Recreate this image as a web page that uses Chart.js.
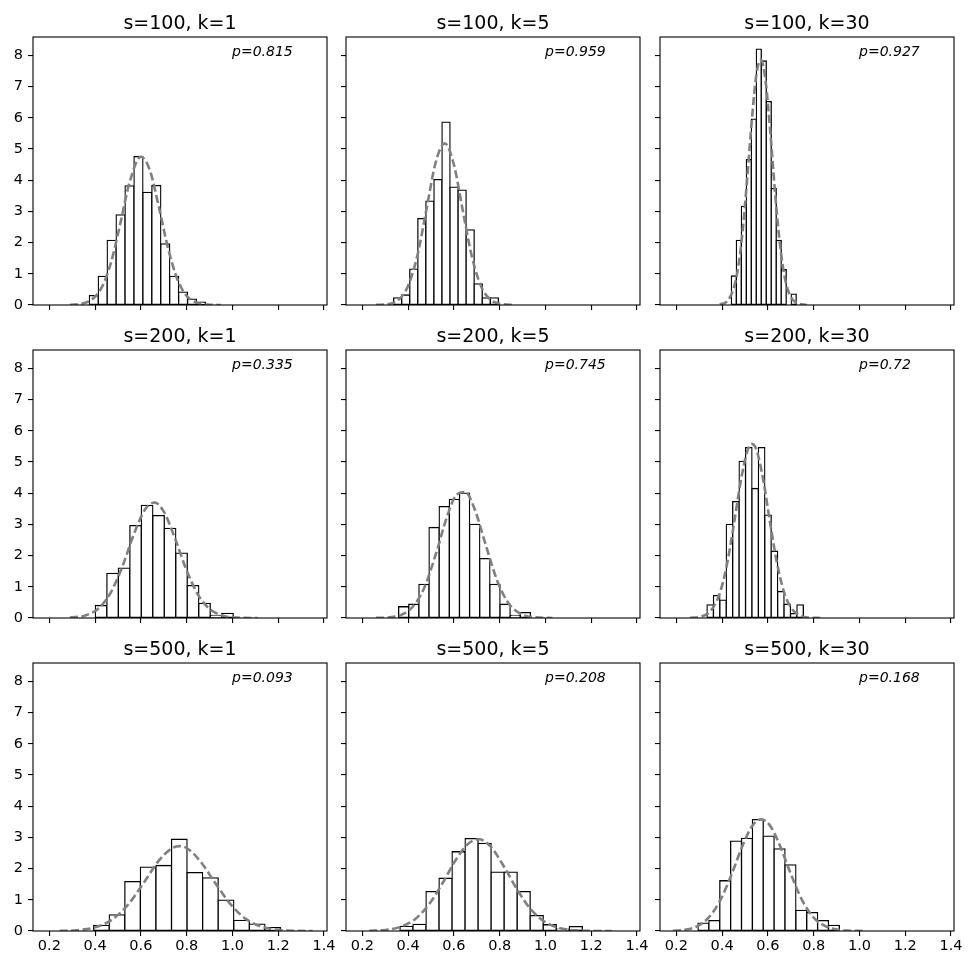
<!DOCTYPE html>
<html>
<head>
<meta charset="utf-8">
<script src="https://cdn.jsdelivr.net/npm/chart.js@4.4.0/dist/chart.umd.min.js"></script>
<style>
  html, body { margin: 0; padding: 0; background: #fff; }
  #fig { position: relative; width: 969px; height: 969px; overflow: hidden; }
  #fig canvas { position: absolute; }
</style>
</head>
<body>
<div id="fig"></div>
<script>
// shared axes
const xTicks = [0.2, 0.4, 0.6, 0.8, 1.0, 1.2, 1.4];
const yTicks = [0, 1, 2, 3, 4, 5, 6, 7, 8];
const xMin = 0.1286, xMax = 1.413;
const yMax = 8.59;

const titles = ["s=100, k=1", "s=100, k=5", "s=100, k=30",
                "s=200, k=1", "s=200, k=5", "s=200, k=30",
                "s=500, k=1", "s=500, k=5", "s=500, k=30"];
const pValues = ["0.815", "0.959", "0.927", "0.335", "0.745", "0.72", "0.093", "0.208", "0.168"];

// histogram bins: first edge and bin width, then density per bin
const binStart = [0.3748, 0.3367, 0.4403, 0.401, 0.3585, 0.334, 0.3937, 0.3644, 0.2947];
const binWidth = [0.039, 0.0352, 0.0218, 0.0502, 0.0443, 0.02805, 0.068, 0.0569, 0.0475];

const hist_s100_k1 = [0.30, 0.92, 2.07, 2.89, 3.82, 4.76, 3.61, 3.83, 1.96, 0.92, 0.41, 0.19, 0.09];
const hist_s100_k5 = [0.23, 0.32, 1.15, 2.77, 3.33, 4.02, 5.86, 3.78, 3.68, 2.41, 0.68, 0.23, 0.23];
const hist_s100_k30 = [0.93, 2.07, 3.16, 4.66, 5.96, 8.20, 7.82, 6.52, 3.73, 2.07, 1.13, 0, 0.35];
const hist_s200_k1 = [0.40, 1.43, 1.60, 2.96, 3.61, 3.28, 2.87, 2.08, 1.04, 0.47, 0.08, 0.15];
const hist_s200_k5 = [0.36, 0.44, 1.08, 2.90, 3.57, 3.80, 4.00, 3.00, 1.90, 1.08, 0.44, 0.08, 0.17];
const hist_s200_k30 = [0.42, 0.72, 0.57, 3.00, 3.73, 5.02, 5.46, 4.15, 5.46, 3.30, 2.14, 0.85, 0.44, 0.14, 0.42];
const hist_s500_k1 = [0.18, 0.52, 1.58, 2.05, 2.10, 2.94, 1.87, 1.70, 0.99, 0.34, 0.22, 0.11];
const hist_s500_k5 = [0.15, 0.21, 1.26, 1.69, 2.54, 2.96, 2.81, 1.89, 1.89, 1.26, 0.49, 0.20, 0.06, 0.14];
const hist_s500_k30 = [0.25, 0.33, 1.61, 2.88, 2.97, 3.57, 3.04, 2.63, 2.12, 0.66, 0.59, 0.33, 0.18];

// fitted density curves (dashed)
const curveX_s100_k1 = [0.29, 0.35, 0.39, 0.43, 0.47, 0.51, 0.55, 0.60, 0.64, 0.68, 0.72, 0.76, 0.80, 0.85, 0.90, 0.95];
const curveY_s100_k1 = [0.005, 0.053, 0.20, 0.58, 1.38, 2.61, 3.92, 4.75, 4.30, 3.09, 1.78, 0.81, 0.29, 0.06, 0.009, 0.001];
const curveX_s100_k5 = [0.26, 0.32, 0.36, 0.40, 0.44, 0.48, 0.52, 0.56, 0.60, 0.64, 0.68, 0.72, 0.76, 0.81, 0.865];
const curveY_s100_k5 = [0.003, 0.04, 0.18, 0.62, 1.57, 3.06, 4.56, 5.18, 4.50, 2.98, 1.51, 0.58, 0.17, 0.03, 0.002];
const curveX_s100_k30 = [0.39, 0.42, 0.45, 0.47, 0.49, 0.51, 0.53, 0.55, 0.57, 0.59, 0.61, 0.63, 0.65, 0.67, 0.69, 0.72, 0.77];
const curveY_s100_k30 = [0.016, 0.11, 0.52, 1.20, 2.40, 4.09, 5.94, 7.40, 7.87, 7.17, 5.59, 3.72, 2.12, 1.03, 0.43, 0.09, 0.003];
const curveX_s200_k1 = [0.29, 0.36, 0.42, 0.47, 0.52, 0.57, 0.62, 0.66, 0.70, 0.75, 0.80, 0.85, 0.90, 0.96, 1.03, 1.11];
const curveY_s200_k1 = [0.012, 0.087, 0.34, 0.84, 1.67, 2.70, 3.50, 3.70, 3.41, 2.53, 1.52, 0.74, 0.29, 0.07, 0.009, 0.001];
const curveX_s200_k5 = [0.26, 0.32, 0.37, 0.42, 0.47, 0.52, 0.57, 0.61, 0.65, 0.69, 0.74, 0.79, 0.84, 0.89, 0.95, 1.03];
const curveY_s200_k5 = [0.003, 0.022, 0.10, 0.36, 0.96, 2.02, 3.25, 3.94, 4.04, 3.50, 2.32, 1.18, 0.46, 0.14, 0.024, 0.001];
const curveX_s200_k30 = [0.26, 0.31, 0.35, 0.39, 0.42, 0.45, 0.48, 0.51, 0.53, 0.55, 0.58, 0.61, 0.64, 0.67, 0.70, 0.74, 0.78, 0.83];
const curveY_s200_k30 = [0.004, 0.047, 0.23, 0.80, 1.68, 2.94, 4.33, 5.35, 5.58, 5.39, 4.41, 3.03, 1.75, 0.84, 0.34, 0.078, 0.013, 0.001];
const curveX_s500_k1 = [0.245, 0.32, 0.40, 0.47, 0.54, 0.61, 0.68, 0.74, 0.77, 0.80, 0.86, 0.92, 0.99, 1.06, 1.13, 1.21, 1.28, 1.35];
const curveY_s500_k1 = [0.005, 0.026, 0.117, 0.35, 0.81, 1.52, 2.27, 2.67, 2.72, 2.66, 2.23, 1.59, 0.87, 0.38, 0.13, 0.029, 0.006, 0.001];
const curveX_s500_k5 = [0.23, 0.30, 0.37, 0.43, 0.49, 0.55, 0.61, 0.66, 0.71, 0.76, 0.82, 0.88, 0.94, 1.00, 1.07, 1.15, 1.22, 1.29];
const curveY_s500_k5 = [0.006, 0.034, 0.14, 0.38, 0.84, 1.53, 2.30, 2.78, 2.94, 2.71, 2.05, 1.28, 0.66, 0.28, 0.079, 0.014, 0.002, 0.0003];
const curveX_s500_k30 = [0.185, 0.24, 0.29, 0.34, 0.39, 0.44, 0.49, 0.53, 0.57, 0.61, 0.65, 0.70, 0.75, 0.80, 0.85, 0.91, 0.96, 1.015];
const curveY_s500_k30 = [0.009, 0.043, 0.15, 0.42, 0.96, 1.79, 2.75, 3.35, 3.58, 3.37, 2.78, 1.83, 0.98, 0.43, 0.16, 0.035, 0.008, 0.001];

const histograms = [hist_s100_k1, hist_s100_k5, hist_s100_k30, hist_s200_k1, hist_s200_k5, hist_s200_k30, hist_s500_k1, hist_s500_k5, hist_s500_k30];
const curvesX = [curveX_s100_k1, curveX_s100_k5, curveX_s100_k30, curveX_s200_k1, curveX_s200_k5, curveX_s200_k30, curveX_s500_k1, curveX_s500_k5, curveX_s500_k30];
const curvesY = [curveY_s100_k1, curveY_s100_k5, curveY_s100_k30, curveY_s200_k1, curveY_s200_k5, curveY_s200_k30, curveY_s500_k1, curveY_s500_k5, curveY_s500_k30];

// layout of the 3x3 grid (plot area corners)
const plotLefts = [33, 346, 660];
const plotTops = [37, 350, 663];
const plotW = 294, plotH = 268;
const padL = 33, padT = 37, padR = 14, padB = 38;

const FONT = "'DejaVu Sans', 'Liberation Sans', sans-serif";

const panelDecor = {
  id: 'panelDecor',
  afterDraw(chart, args, opts) {
    const ctx = chart.ctx;
    const a = chart.chartArea;
    ctx.save();
    ctx.strokeStyle = '#000';
    ctx.lineWidth = 1.1;
    ctx.strokeRect(a.left, a.top, a.right - a.left, a.bottom - a.top);
    ctx.fillStyle = '#000';
    ctx.textAlign = 'center';
    ctx.textBaseline = 'alphabetic';
    ctx.font = "19px " + FONT;
    ctx.fillText(opts.title, (a.left + a.right) / 2, a.top - 7.7);
    ctx.textAlign = 'left';
    ctx.font = "italic 14px " + FONT;
    ctx.fillText('p=' + opts.p, a.left + 0.677 * (a.right - a.left), a.top + 18.7);
    ctx.restore();
  }
};

const fig = document.getElementById('fig');

function makePanel(i) {
  const row = Math.floor(i / 3), col = i % 3;
  const cv = document.createElement('canvas');
  const w = padL + plotW + padR, h = padT + plotH + padB;
  cv.width = w; cv.height = h;
  cv.style.width = w + 'px'; cv.style.height = h + 'px';
  cv.style.left = (plotLefts[col] - padL) + 'px';
  cv.style.top = (plotTops[row] - padT) + 'px';
  fig.appendChild(cv);

  const bars = histograms[i].map((v, j) => ({ x: binStart[i] + binWidth[i] * (j + 0.5), y: v }));
  const curve = curvesX[i].map((x, j) => ({ x: x, y: curvesY[i][j] }));

  new Chart(cv, {
    type: 'bar',
    data: {
      datasets: [{
        type: 'bar',
        data: bars,
        backgroundColor: '#ffffff',
        borderColor: '#000000',
        borderWidth: 1.3,
        borderSkipped: false,
        inflateAmount: 0.65,
        barPercentage: 1,
        categoryPercentage: 1,
        order: 2
      }, {
        type: 'line',
        data: curve,
        borderColor: '#808080',
        borderWidth: 2.6,
        borderDash: [8, 3.5],
        pointRadius: 0,
        fill: false,
        cubicInterpolationMode: 'monotone',
        order: 1
      }]
    },
    options: {
      responsive: false,
      animation: false,
      events: [],
      layout: { padding: { top: padT, right: padR, left: 0, bottom: 0 } },
      plugins: {
        legend: { display: false },
        tooltip: { enabled: false },
        panelDecor: { title: titles[i], p: pValues[i] }
      },
      scales: {
        x: {
          type: 'linear',
          min: xMin,
          max: xMax,
          offset: false,
          afterBuildTicks: s => { s.ticks = xTicks.map(v => ({ value: v })); },
          afterFit: s => { s.height = padB; },
          grid: { drawOnChartArea: false, drawTicks: true, tickLength: 5, color: '#000', lineWidth: 1.1, offset: false },
          border: { display: false },
          ticks: {
            display: row === 2,
            autoSkip: false,
            maxRotation: 0,
            color: '#000',
            padding: 3,
            font: { family: FONT, size: 14.5, lineHeight: 1 },
            callback: v => Number(v).toFixed(1)
          }
        },
        y: {
          type: 'linear',
          min: 0,
          max: yMax,
          afterBuildTicks: s => { s.ticks = yTicks.map(v => ({ value: v })); },
          afterFit: s => { s.width = padL; },
          grid: { drawOnChartArea: false, drawTicks: true, tickLength: 5, color: '#000', lineWidth: 1.1 },
          border: { display: false },
          ticks: {
            display: col === 0,
            autoSkip: false,
            color: '#000',
            padding: 5,
            font: { family: FONT, size: 14.5, lineHeight: 1 },
            callback: v => String(v)
          }
        }
      }
    },
    plugins: [panelDecor]
  });
}

for (let i = 0; i < 9; i++) makePanel(i);
</script>
</body>
</html>
